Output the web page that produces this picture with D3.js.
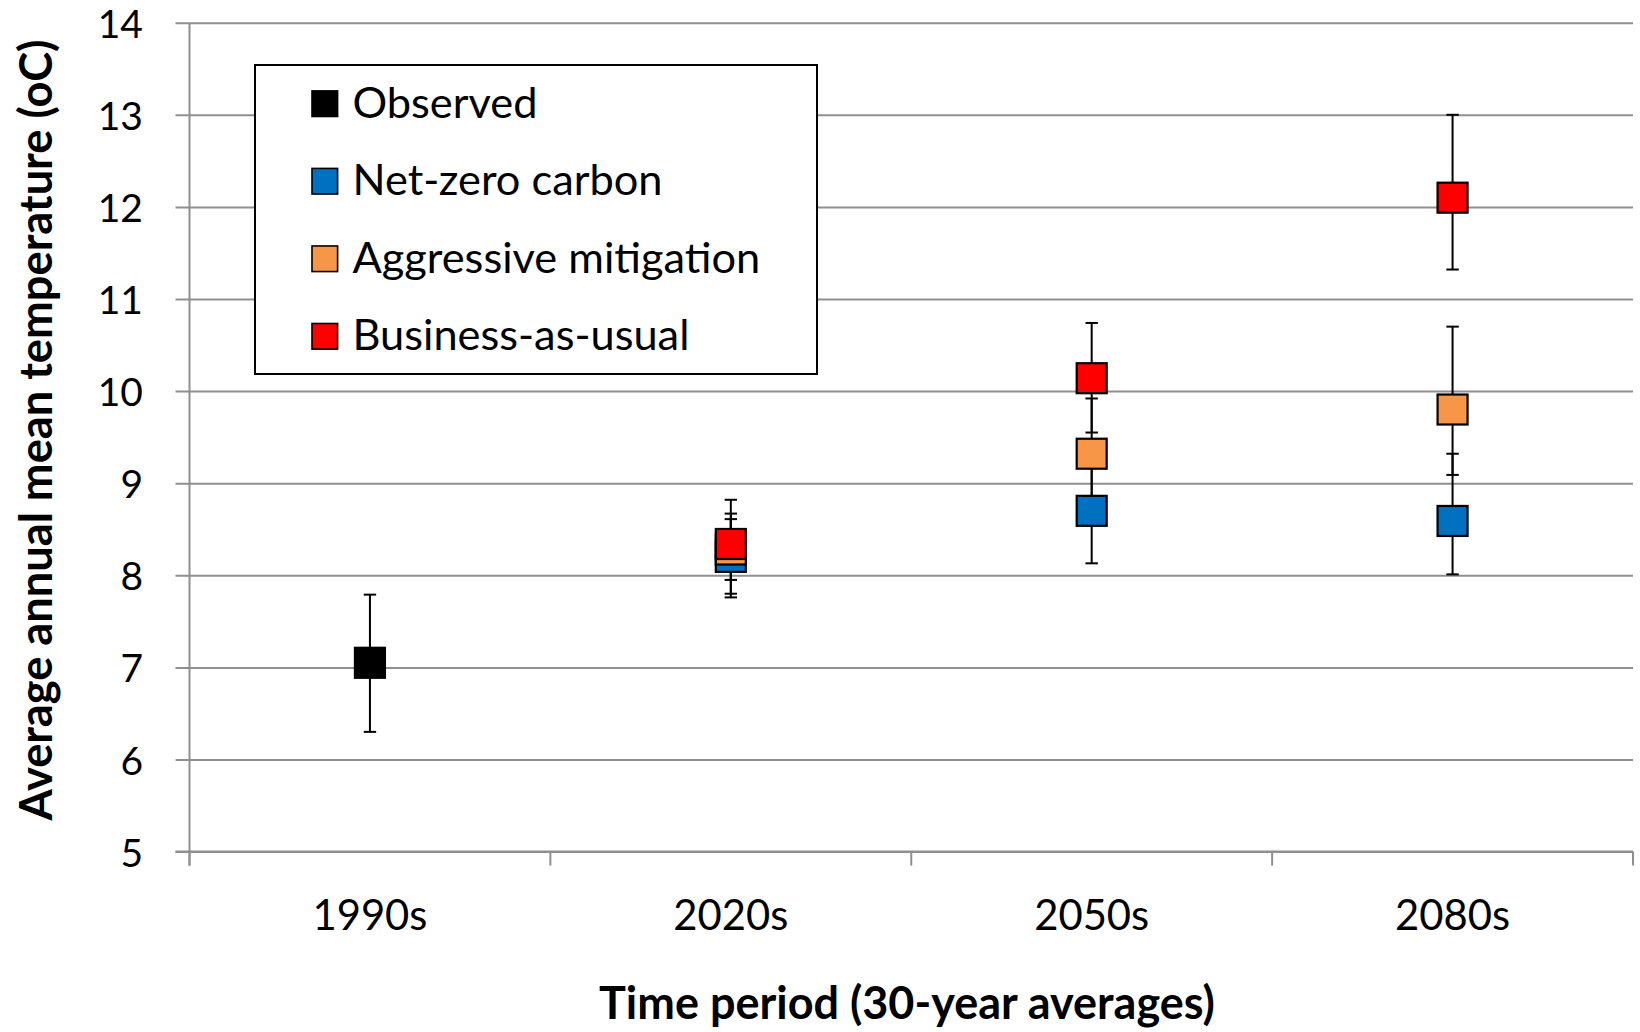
<!DOCTYPE html>
<html>
<head>
<meta charset="utf-8">
<script src="https://cdn.jsdelivr.net/npm/d3@7"></script>
<style>
  html, body { margin: 0; padding: 0; background: #fff; }
  svg { display: block; }
  text { font-family: Lato, "Open Sans", sans-serif; fill: #000; }
</style>
</head>
<body>
<svg id="chart" width="1640" height="1032"></svg>
<script>
// ---------------- data ----------------
const categories = ["1990s", "2020s", "2050s", "2080s"];
const seriesNames = ["Observed", "Net-zero carbon", "Aggressive mitigation", "Business-as-usual"];
const seriesColors = ["#000000", "#0070C0", "#F79646", "#FF0000"];

const observedMean = [7.05, null, null, null];
const observedLow  = [6.30, null, null, null];
const observedHigh = [7.79, null, null, null];

const netZeroMean = [null, 8.20, 8.70, 8.59];
const netZeroLow  = [null, 7.76, 8.13, 8.01];
const netZeroHigh = [null, 8.61, 9.27, 9.32];

const mitigationMean = [null, 8.28, 9.32, 9.80];
const mitigationLow  = [null, 7.80, 8.72, 9.09];
const mitigationHigh = [null, 8.67, 9.92, 10.70];

const bauMean = [null, 8.34, 10.14, 12.10];
const bauLow  = [null, 7.95, 9.55, 11.32];
const bauHigh = [null, 8.82, 10.74, 13.00];

const yTicks = [5, 6, 7, 8, 9, 10, 11, 12, 13, 14];
const xTitle = "Time period (30-year averages)";
const yTitle = "Average annual mean temperature (oC)";

// ---------------- build ----------------
const series = [
  { mean: observedMean, low: observedLow, high: observedHigh },
  { mean: netZeroMean, low: netZeroLow, high: netZeroHigh },
  { mean: mitigationMean, low: mitigationLow, high: mitigationHigh },
  { mean: bauMean, low: bauLow, high: bauHigh }
].map((s, i) => ({
  name: seriesNames[i], color: seriesColors[i],
  points: categories.map((c, j) => ({ cat: c, mean: s.mean[j], low: s.low[j], high: s.high[j] }))
             .filter(p => p.mean !== null)
}));

const svg = d3.select("#chart");
const plot = { left: 189.5, right: 1633, top: 22.7, bottom: 851.6 };

const x = d3.scaleBand().domain(categories).range([plot.left, plot.right]).padding(0);
const y = d3.scaleLinear().domain([5, 14]).range([plot.bottom, plot.top]);

const gridColor = "#8f8f8f";

// gridlines + y ticks (ticks extend left of axis)
const yAxis = d3.axisLeft(y).tickValues(yTicks).tickSize(0).tickPadding(0).tickFormat(d3.format("d"));
const gy = svg.append("g").attr("transform", `translate(${plot.left},0)`).call(yAxis);
gy.select(".domain").remove();
gy.selectAll(".tick text").remove();
gy.selectAll(".tick").append("line")
  .attr("x1", -14).attr("x2", plot.right - plot.left)
  .attr("stroke", gridColor).attr("stroke-width", 2);

// y tick labels
svg.append("g").selectAll("text").data(yTicks).join("text")
  .attr("x", 143).attr("y", d => y(d))
  .attr("text-anchor", "end").attr("dominant-baseline", "central")
  .style("font-size", "39px")
  .text(d => d);

// y axis line
svg.append("line").attr("x1", plot.left).attr("x2", plot.left)
  .attr("y1", plot.top).attr("y2", plot.bottom + 14)
  .attr("stroke", gridColor).attr("stroke-width", 2);

// x axis with ticks at category boundaries
const xEdges = categories.map(c => x(c)).concat([x(categories[categories.length - 1]) + x.bandwidth()]);
svg.append("line").attr("x1", plot.left - 14).attr("x2", plot.right)
  .attr("y1", plot.bottom).attr("y2", plot.bottom)
  .attr("stroke", gridColor).attr("stroke-width", 2);
svg.append("g").selectAll("line").data(xEdges).join("line")
  .attr("x1", d => d).attr("x2", d => d)
  .attr("y1", plot.bottom).attr("y2", plot.bottom + 14)
  .attr("stroke", gridColor).attr("stroke-width", 2);

// helper to fit a font size so text reaches a target width
function fitFont(sel, width, base) {
  sel.style("font-size", base + "px");
  const w = sel.node().getComputedTextLength();
  const size = base * width / w;
  sel.style("font-size", size + "px");
  return size;
}

// category labels
const catLabels = svg.append("g").selectAll("text").data(categories).join("text")
  .attr("x", d => x(d) + x.bandwidth() / 2).attr("y", 929.5)
  .attr("text-anchor", "middle")
  .text(d => d);
const catSize = fitFont(catLabels.filter((d, i) => i === 0), 115, 40);
catLabels.style("font-size", catSize + "px");

// axis titles
const xt = svg.append("text").attr("x", 907).attr("y", 1019)
  .attr("text-anchor", "middle").style("font-weight", "bold").text(xTitle);
fitFont(xt, 616, 48);

const yt = svg.append("text").attr("transform", "translate(51.5,430) rotate(-90)")
  .attr("text-anchor", "middle").style("font-weight", "bold").text(yTitle);
fitFont(yt, 781, 48);

// error bars (drawn beneath markers)
const capHalf = 6.2;
const errG = svg.append("g");
series.forEach(s => {
  const g = errG.append("g");
  g.selectAll("line.v").data(s.points).join("line").attr("class", "v")
    .attr("x1", d => x(d.cat) + x.bandwidth() / 2).attr("x2", d => x(d.cat) + x.bandwidth() / 2)
    .attr("y1", d => y(d.low)).attr("y2", d => y(d.high))
    .attr("stroke", "#000").attr("stroke-width", 2);
  ["low", "high"].forEach(k => {
    g.selectAll("line.c" + k).data(s.points).join("line").attr("class", "c" + k)
      .attr("x1", d => x(d.cat) + x.bandwidth() / 2 - capHalf)
      .attr("x2", d => x(d.cat) + x.bandwidth() / 2 + capHalf)
      .attr("y1", d => y(d[k])).attr("y2", d => y(d[k]))
      .attr("stroke", "#000").attr("stroke-width", 2);
  });
});

// markers
const mSize = 30;
series.forEach(s => {
  svg.append("g").selectAll("rect").data(s.points).join("rect")
    .attr("x", d => x(d.cat) + x.bandwidth() / 2 - mSize / 2)
    .attr("y", d => y(d.mean) - mSize / 2)
    .attr("width", mSize).attr("height", mSize)
    .attr("fill", s.color).attr("stroke", "#000").attr("stroke-width", 2.2);
});

// legend
const legend = svg.append("g");
legend.append("rect").attr("x", 255).attr("y", 65).attr("width", 562).attr("height", 309)
  .attr("fill", "#fff").attr("stroke", "#000").attr("stroke-width", 2);
const legendY = d3.scalePoint().domain(seriesNames).range([103.7, 336.3]);
const li = legend.selectAll("g.item").data(series).join("g").attr("class", "item")
  .attr("transform", d => `translate(0,${legendY(d.name)})`);
li.append("rect").attr("x", 312).attr("y", -12.8).attr("width", 25.6).attr("height", 25.6)
  .attr("fill", d => d.color).attr("stroke", "#000").attr("stroke-width", 1.6);
const lt = li.append("text").attr("x", 352.5).attr("y", -3).attr("dominant-baseline", "central")
  .text(d => d.name);
const legSize = fitFont(lt.filter(d => d.name === "Business-as-usual"), 337, 44);
lt.style("font-size", legSize + "px");
</script>
</body>
</html>
